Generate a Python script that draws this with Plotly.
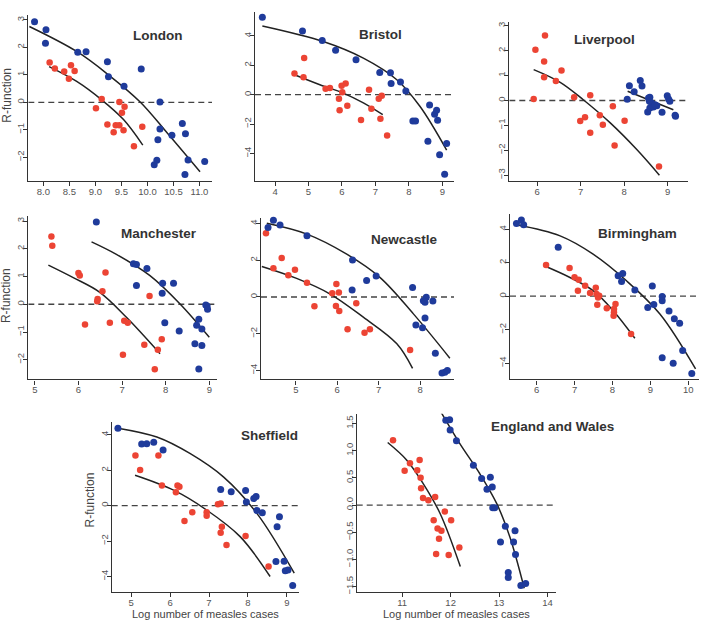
import plotly.graph_objects as go

W, H = 702, 622

# ---------------- data ----------------
london_blue_x = [7.83, 8.05, 8.04, 8.66, 8.82, 9.23, 9.25, 9.55, 9.88, 10.24, 10.24, 10.20, 10.47, 10.67, 10.73, 10.18, 10.13, 10.78, 10.72, 11.10]
london_blue_y = [2.93, 2.64, 2.15, 1.82, 1.84, 1.48, 0.93, 0.58, 1.21, 0.01, -0.97, -1.36, -1.20, -0.77, -1.15, -2.11, -2.27, -2.10, -2.63, -2.16]
london_red_x = [8.12, 8.22, 8.40, 8.53, 8.60, 8.49, 9.01, 9.12, 9.46, 9.56, 9.51, 9.23, 9.39, 9.46, 9.35, 9.54, 9.90, 9.74]
london_red_y = [1.45, 1.23, 1.12, 1.35, 1.14, 0.86, -0.22, 0.12, 0.01, -0.16, -0.38, -0.81, -0.84, -0.84, -1.09, -1.02, -0.89, -1.60]
london_blue_fit_x = [7.73, 8.64, 9.25, 9.86, 10.38, 11.01]
london_blue_fit_y = [2.76, 1.85, 1.00, 0.01, -1.12, -2.53]
london_red_fit_x = [8.11, 8.64, 9.12, 9.54, 9.91]
london_red_fit_y = [1.30, 0.76, 0.09, -0.63, -1.56]

bristol_blue_x = [3.62, 4.82, 5.41, 5.81, 6.42, 7.13, 7.45, 7.47, 7.75, 7.91, 8.62, 8.12, 8.20, 8.57, 8.77, 8.83, 8.86, 8.92, 9.13, 9.07]
bristol_blue_y = [5.27, 4.34, 3.68, 3.03, 2.37, 1.51, 1.49, 0.77, 0.86, 0.25, -0.70, -1.79, -1.79, -3.16, -1.33, -1.06, -1.74, -4.09, -3.32, -5.42]
bristol_red_x = [4.58, 4.87, 4.85, 5.51, 5.64, 6.11, 5.99, 6.01, 5.91, 5.93, 6.16, 6.81, 7.10, 7.19, 6.88, 6.57, 7.15, 7.35]
bristol_red_y = [1.45, 2.49, 1.18, 0.41, 0.45, 0.77, 0.61, 0.16, -0.27, -1.06, -0.75, 0.34, -0.27, -0.07, -0.95, -1.72, -1.63, -2.78]
bristol_blue_fit_x = [3.62, 5.44, 6.64, 7.64, 8.33, 9.13]
bristol_blue_fit_y = [4.68, 3.62, 2.49, 1.02, -0.79, -3.77]
bristol_red_fit_x = [4.58, 5.34, 6.04, 6.64, 7.22]
bristol_red_fit_y = [1.36, 0.68, 0.11, -0.56, -1.36]

liverpool_red_x = [5.96, 6.18, 6.16, 6.16, 6.43, 6.56, 5.92, 6.85, 7.22, 6.99, 7.10, 7.22, 7.44, 7.51, 7.74, 7.78, 8.01, 8.80]
liverpool_red_y = [2.04, 2.61, 1.57, 0.93, 0.78, 1.21, 0.06, 0.13, 0.21, -0.82, -0.67, -1.30, -0.59, -0.97, -0.23, -1.81, -0.81, -2.65]
liverpool_blue_x = [8.07, 8.12, 8.23, 8.37, 8.41, 8.56, 8.59, 8.58, 8.63, 8.54, 8.59, 8.67, 8.75, 8.71, 8.99, 9.02, 9.05, 8.87, 9.17, 9.18]
liverpool_blue_y = [0.05, 0.59, 0.35, 0.80, 0.58, 0.10, 0.13, -0.03, -0.10, -0.46, -0.30, -0.26, -0.21, -0.17, 0.19, 0.06, -0.03, -0.47, -0.59, -0.63]
liverpool_red_fit_x = [5.92, 6.53, 7.06, 7.68, 8.29, 8.81]
liverpool_red_fit_y = [1.24, 0.73, 0.03, -0.90, -1.97, -3.00]
liverpool_blue_fit_x = [8.08, 8.60, 9.13]
liverpool_blue_fit_y = [0.37, 0.00, -0.37]

manchester_blue_x = [6.41, 7.26, 7.33, 7.57, 7.33, 7.93, 8.18, 7.92, 7.98, 8.31, 8.67, 8.76, 8.83, 8.71, 8.76, 8.83, 8.92, 8.95, 8.96]
manchester_blue_y = [2.96, 1.46, 1.43, 1.29, 0.68, 0.76, 0.76, 0.40, -0.67, -0.96, -1.42, -2.33, -1.49, -0.76, -0.54, -0.89, -0.03, -0.06, -0.18]
manchester_red_x = [5.38, 5.40, 6.00, 6.03, 6.62, 6.15, 6.44, 6.43, 6.55, 7.63, 6.72, 7.05, 7.13, 7.51, 7.91, 7.82, 7.02, 7.75]
manchester_red_y = [2.44, 2.11, 1.13, 1.04, 1.14, -0.73, 0.19, 0.11, 0.47, 0.30, -0.67, -0.59, -0.67, -1.46, -1.26, -1.64, -1.82, -2.34]
manchester_blue_fit_x = [6.30, 6.87, 7.64, 8.33, 9.00]
manchester_blue_fit_y = [2.25, 1.80, 1.03, 0.01, -1.19]
manchester_red_fit_x = [5.31, 5.88, 6.49, 7.10, 7.87]
manchester_red_fit_y = [1.41, 0.96, 0.43, -0.47, -1.78]

newcastle_blue_x = [4.33, 4.46, 4.62, 5.27, 6.37, 6.36, 6.71, 6.94, 7.82, 8.15, 8.08, 8.12, 8.31, 8.12, 7.90, 8.06, 8.37, 8.53, 8.60, 8.66]
newcastle_blue_y = [3.78, 4.18, 3.92, 3.33, 2.01, 0.38, 0.90, 1.14, 0.51, -0.02, -0.20, -0.29, -0.22, -1.14, -1.52, -1.68, -3.06, -4.14, -4.09, -4.00]
newcastle_red_x = [4.28, 4.46, 4.66, 4.82, 4.98, 5.27, 5.45, 5.88, 5.98, 6.04, 5.97, 6.05, 6.46, 6.25, 6.66, 6.79, 7.76]
newcastle_red_y = [3.47, 1.56, 2.12, 1.18, 1.48, 0.78, -0.51, 0.20, 0.71, 0.24, -0.49, -0.76, -0.34, -1.75, -1.95, -1.75, -2.88]
newcastle_blue_fit_x = [4.30, 5.27, 6.23, 7.03, 7.84, 8.72]
newcastle_blue_fit_y = [4.01, 3.42, 2.33, 1.07, -0.92, -3.33]
newcastle_red_fit_x = [4.18, 5.02, 5.83, 6.63, 7.44, 7.82]
newcastle_red_fit_y = [1.66, 1.01, 0.16, -1.10, -2.55, -3.89]

birmingham_blue_x = [5.47, 5.60, 5.66, 6.57, 8.15, 8.27, 8.24, 8.59, 9.05, 8.93, 9.09, 9.31, 9.31, 9.49, 9.63, 9.77, 9.31, 9.85, 9.60, 10.09]
birmingham_blue_y = [4.34, 4.55, 4.26, 2.93, 1.22, 1.36, 0.88, 0.37, 0.61, -0.67, -0.49, -0.01, -0.27, -0.88, -1.34, -1.62, -3.68, -3.24, -4.00, -4.61]
birmingham_red_x = [6.25, 6.87, 7.00, 7.11, 7.09, 7.28, 7.41, 7.56, 7.58, 7.65, 7.62, 7.60, 7.85, 8.08, 8.04, 8.04, 8.03, 8.49]
birmingham_red_y = [1.86, 1.68, 1.14, 0.98, 0.33, 0.62, 0.19, 0.51, 0.13, 0.03, -0.07, -0.51, -0.72, -0.47, -0.76, -0.96, -1.16, -2.25]
birmingham_blue_fit_x = [5.47, 6.62, 7.49, 8.37, 9.25, 10.19]
birmingham_blue_fit_y = [4.26, 3.60, 2.51, 0.92, -1.06, -4.34]
birmingham_red_fit_x = [6.20, 6.88, 7.49, 8.02, 8.59]
birmingham_red_fit_y = [1.82, 1.12, 0.33, -0.86, -2.51]

sheffield_blue_x = [4.66, 5.27, 5.40, 5.58, 5.82, 7.30, 7.57, 7.94, 7.96, 8.15, 8.21, 8.23, 8.37, 8.81, 8.75, 8.72, 8.93, 8.96, 9.03, 9.15]
sheffield_blue_y = [4.36, 3.48, 3.49, 3.57, 3.14, 0.91, 0.78, 0.85, 0.20, 0.40, 0.52, -0.27, -0.40, -0.63, -1.19, -3.16, -3.14, -3.68, -3.63, -4.51]
sheffield_red_x = [5.11, 5.23, 5.70, 5.79, 6.19, 6.24, 6.15, 6.37, 6.57, 6.94, 6.94, 7.23, 7.30, 7.33, 7.30, 7.45, 7.94, 8.53]
sheffield_red_y = [2.82, 2.01, 2.82, 1.13, 1.13, 1.06, 0.76, -0.87, -0.37, -0.38, -0.57, 0.07, 0.12, -1.19, -1.53, -2.22, -1.71, -3.44]
sheffield_blue_fit_x = [4.66, 5.66, 6.52, 7.37, 8.23, 9.19]
sheffield_blue_fit_y = [4.37, 3.87, 2.93, 1.62, -0.44, -3.81]
sheffield_red_fit_x = [5.10, 6.09, 6.94, 7.80, 8.57]
sheffield_red_fit_y = [1.71, 0.87, -0.25, -1.75, -4.00]

ew_red_x = [10.81, 11.05, 11.16, 11.31, 11.36, 11.38, 11.39, 11.43, 11.54, 11.68, 11.65, 11.73, 11.81, 11.88, 12.01, 11.76, 11.70, 11.96, 12.18]
ew_red_y = [1.19, 0.63, 0.77, 0.64, 0.83, 0.50, 0.31, 0.13, 0.09, 0.15, -0.28, -0.43, -0.47, -0.12, -0.28, -0.62, -0.90, -0.92, -0.78]
ew_blue_x = [11.90, 11.98, 11.99, 12.12, 12.47, 12.64, 12.82, 12.75, 12.86, 12.87, 12.91, 13.13, 13.33, 13.03, 13.30, 13.34, 13.19, 13.19, 13.45, 13.55]
ew_blue_y = [1.56, 1.57, 1.38, 1.18, 0.73, 0.49, 0.51, 0.29, 0.33, -0.05, -0.05, -0.39, -0.47, -0.68, -0.68, -0.91, -1.24, -1.33, -1.48, -1.44]
ew_red_fit_x = [10.70, 11.09, 11.43, 11.78, 12.20]
ew_red_fit_y = [1.15, 0.83, 0.40, -0.15, -1.13]
ew_blue_fit_x = [11.80, 12.19, 12.60, 12.95, 13.22, 13.52]
ew_blue_fit_y = [1.71, 1.13, 0.58, 0.03, -0.58, -1.53]

BLUE = "#1f3b9b"
RED = "#ec4434"

# (title, blue pts, red pts, blue fit, red fit, pixel box L,R,T,B, xrange, yrange, xticks, yticks, xfmt, yfmt, title px, ylabel, xlabel)
panels = [
    ("London", (london_blue_x, london_blue_y), (london_red_x, london_red_y),
     (london_blue_fit_x, london_blue_fit_y), (london_red_fit_x, london_red_fit_y),
     (28.3, 212, 15, 181.7), [7.71, 11.24], [-2.87, 3.18],
     [8.0, 8.5, 9.0, 9.5, 10.0, 10.5, 11.0], [-2, -1, 0, 1, 2, 3], ".1f", "d", (157, 36), (7, 96), None),
    ("Bristol", (bristol_blue_x, bristol_blue_y), (bristol_red_x, bristol_red_y),
     (bristol_blue_fit_x, bristol_blue_fit_y), (bristol_red_fit_x, bristol_red_fit_y),
     (255, 454, 11.7, 181.7), [3.40, 9.35], [-5.88, 5.65],
     [4, 5, 6, 7, 8, 9], [-4, -2, 0, 2, 4], "d", "d", (381, 35), None, None),
    ("Liverpool", (liverpool_blue_x, liverpool_blue_y), (liverpool_red_x, liverpool_red_y),
     (liverpool_blue_fit_x, liverpool_blue_fit_y), (liverpool_red_fit_x, liverpool_red_fit_y),
     (509.3, 687.7, 21.7, 181.7), [5.36, 9.46], [-3.24, 3.17],
     [6, 7, 8, 9], [-3, -2, -1, 0, 1, 2, 3], "d", "d", (604, 40), None, None),
    ("Manchester", (manchester_blue_x, manchester_blue_y), (manchester_red_x, manchester_red_y),
     (manchester_blue_fit_x, manchester_blue_fit_y), (manchester_red_fit_x, manchester_red_fit_y),
     (28.3, 216.7, 216.7, 380.7), [4.85, 9.17], [-2.71, 3.18],
     [5, 6, 7, 8, 9], [-2, -1, 0, 1, 2, 3], "d", "d", (159, 234), (6, 297), None),
    ("Newcastle", (newcastle_blue_x, newcastle_blue_y), (newcastle_red_x, newcastle_red_y),
     (newcastle_blue_fit_x, newcastle_blue_fit_y), (newcastle_red_fit_x, newcastle_red_fit_y),
     (261, 454, 218.3, 380.7), [4.16, 8.82], [-4.49, 4.32],
     [5, 6, 7, 8], [-4, -2, 0, 2, 4], "d", "d", (404, 240), None, None),
    ("Birmingham", (birmingham_blue_x, birmingham_blue_y), (birmingham_red_x, birmingham_red_y),
     (birmingham_blue_fit_x, birmingham_blue_fit_y), (birmingham_red_fit_x, birmingham_red_fit_y),
     (510, 699, 215, 380.7), [5.30, 10.28], [-4.97, 4.89],
     [6, 7, 8, 9, 10], [-4, -2, 0, 2, 4], "d", "d", (637, 234), None, None),
    ("Sheffield", (sheffield_blue_x, sheffield_blue_y), (sheffield_red_x, sheffield_red_y),
     (sheffield_blue_fit_x, sheffield_blue_fit_y), (sheffield_red_fit_x, sheffield_red_fit_y),
     (111.7, 299.3, 423.3, 594), [4.50, 9.32], [-4.88, 4.72],
     [5, 6, 7, 8, 9], [-4, -2, 0, 2, 4], "d", "d", (269, 437), (90, 501), (205, 616)),
    ("England and Wales", (ew_blue_x, ew_blue_y), (ew_red_x, ew_red_y),
     (ew_blue_fit_x, ew_blue_fit_y), (ew_red_fit_x, ew_red_fit_y),
     (356.7, 555.7, 415, 594), [10.06, 14.17], [-1.60, 1.68],
     [11, 12, 13, 14], [-1.5, -1.0, -0.5, 0.0, 0.5, 1.0, 1.5], "d", ".1f", (552, 428), None, (456, 616)),
]

fig = go.Figure()
layout = dict(
    width=W, height=H, margin=dict(l=0, r=0, t=0, b=0),
    paper_bgcolor="white", plot_bgcolor="white", showlegend=False,
    font=dict(family="Liberation Sans, Arial, sans-serif", color="#333333"),
)
annotations = []
AX = "#333333"

for i, p in enumerate(panels):
    (title, blue, red, bfit, rfit, box, xr, yr, xt, yt, xfmt, yfmt, tpos, ylab, xlab) = p
    n = i + 1
    xa = "x" if n == 1 else f"x{n}"
    ya = "y" if n == 1 else f"y{n}"
    L, R, T, B = box
    layout["xaxis" if n == 1 else f"xaxis{n}"] = dict(
        domain=[L / W, R / W], range=xr, anchor=ya, showgrid=False, zeroline=False,
        showline=True, linecolor=AX, linewidth=1.3, ticks="outside", ticklen=4,
        tickwidth=1.1, tickcolor=AX, tickvals=xt, ticklabelstandoff=-3,
        ticktext=[format(v, xfmt) if xfmt != "d" else str(int(v)) for v in xt],
        tickfont=dict(size=9.5, color="#555555"), fixedrange=True,
    )
    layout["yaxis" if n == 1 else f"yaxis{n}"] = dict(
        domain=[1 - B / H, 1 - T / H], range=yr, anchor=xa, showgrid=False, zeroline=False,
        showline=True, linecolor=AX, linewidth=1.3, ticks="outside", ticklen=4,
        tickwidth=1.1, tickcolor=AX, tickvals=yt, ticklabelstandoff=-5,
        ticktext=[(format(v, yfmt) if yfmt != "d" else str(int(v))).replace("-", "\u2212") for v in yt],
        tickangle=-90, tickfont=dict(size=9.5, color="#555555"), fixedrange=True,
    )
    # dashed zero reference
    fig.add_trace(go.Scatter(x=[xr[0], xr[1]], y=[0, 0], xaxis=xa, yaxis=ya, mode="lines",
                             line=dict(color="#444444", width=1.3, dash="6px,4px"), hoverinfo="skip"))
    fig.add_trace(go.Scatter(x=rfit[0], y=rfit[1], xaxis=xa, yaxis=ya, mode="lines",
                             line=dict(color="#222222", width=1.5, shape="spline"), hoverinfo="skip"))
    fig.add_trace(go.Scatter(x=bfit[0], y=bfit[1], xaxis=xa, yaxis=ya, mode="lines",
                             line=dict(color="#222222", width=1.5, shape="spline"), hoverinfo="skip"))
    fig.add_trace(go.Scatter(x=red[0], y=red[1], xaxis=xa, yaxis=ya, mode="markers",
                             marker=dict(color=RED, size=6.5, line=dict(width=0)), cliponaxis=False))
    fig.add_trace(go.Scatter(x=blue[0], y=blue[1], xaxis=xa, yaxis=ya, mode="markers",
                             marker=dict(color=BLUE, size=7, line=dict(width=0)), cliponaxis=False))
    annotations.append(dict(x=tpos[0] / W, y=1 - tpos[1] / H, xref="paper", yref="paper",
                            text=f"<b>{title}</b>", showarrow=False,
                            font=dict(size=13.5, color="#333333"), xanchor="center", yanchor="middle"))
    if ylab:
        annotations.append(dict(x=ylab[0] / W, y=1 - ylab[1] / H, xref="paper", yref="paper",
                                text="R-function", showarrow=False, textangle=-90,
                                font=dict(size=12, color="#444444"), xanchor="center", yanchor="middle"))
    if xlab:
        annotations.append(dict(x=xlab[0] / W, y=1 - xlab[1] / H, xref="paper", yref="paper",
                                text="Log number of measles cases", showarrow=False,
                                font=dict(size=11, color="#444444"), xanchor="center", yanchor="middle"))

layout["annotations"] = annotations
fig.update_layout(**layout)
fig.write_html("out.html", config={"displayModeBar": False},
               post_script="document.body.style.margin='0';document.body.style.overflow='hidden';")
